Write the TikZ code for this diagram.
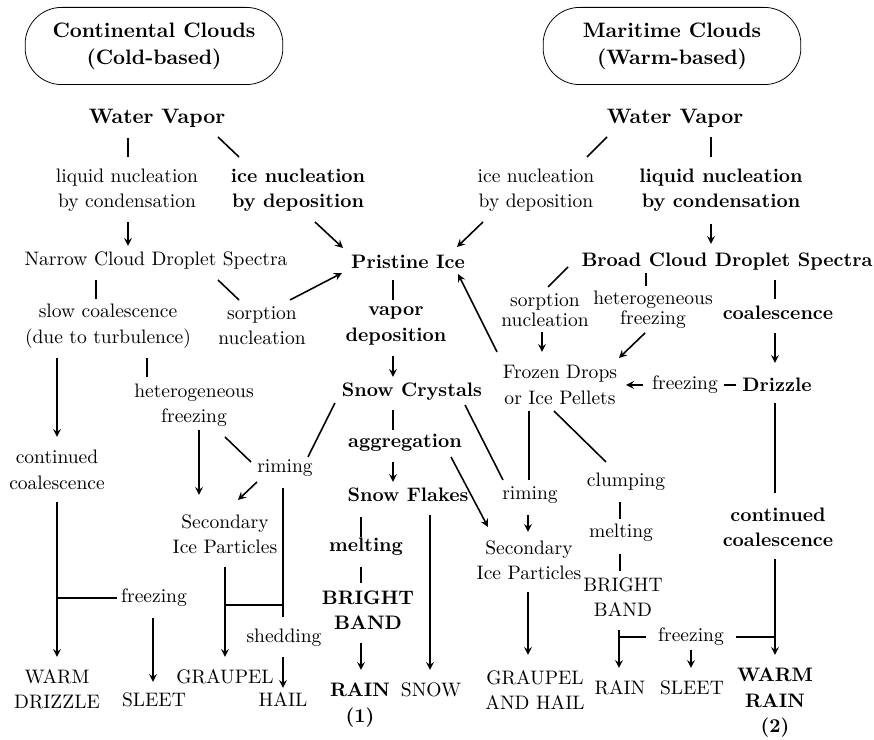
\documentclass[tikz,border=0pt]{standalone}
\usepackage{tikz}
\usetikzlibrary{calc}
\tikzset{
  lbl/.style={align=center, inner sep=2pt, font=\fontsize{10}{13}\selectfont},
  blbl/.style={lbl, font=\fontsize{10}{13}\selectfont\bfseries},
  biglbl/.style={lbl, font=\fontsize{10.7}{14}\selectfont\bfseries},
  tightlbl/.style={lbl, font=\fontsize{10}{10.2}\selectfont},
  cloudbox/.style={draw, thin, rounded corners=0.66cm, minimum width=4.64cm,
    minimum height=1.39cm, align=center, font=\fontsize{10.7}{14}\selectfont\bfseries},
  link/.style={thick},
  arr/.style={thick, -stealth},
}

\begin{document}
\begin{tikzpicture}[x=0.018cm, y=-0.018cm]
\useasboundingbox (0,0) rectangle (874,740);
% cloud types
\node[cloudbox] (contclouds) at (154,46) {Continental Clouds\\(Cold-based)};
\node[cloudbox] (maritclouds) at (672,46) {Maritime Clouds\\(Warm-based)};

% continental side
\node[biglbl] (wvL) at (157,118) {Water Vapor};
\node[lbl] (liqL) at (127,190) {liquid nucleation\\by condensation};
\node[blbl] (iceL) at (298,190) {ice nucleation\\by deposition};
\node[lbl] (narrow) at (156,261) {Narrow Cloud Droplet Spectra};
\node[blbl] (pristine) at (408,262) {Pristine Ice};
\node[lbl] (slowL) at (108,326) {slow coalescence\\(due to turbulence)};
\node[lbl] (sorpL) at (262,326) {sorption\\nucleation};
\node[blbl] (vapdep) at (396,326) {vapor\\deposition};
\node[lbl] (contL) at (57,470) {continued\\coalescence};
\node[lbl] (hetL) at (194,405) {heterogeneous\\freezing};
\node[blbl] (crystals) at (412,392) {Snow Crystals};
\node[blbl] (aggr) at (405,443) {aggregation};
\node[lbl] (rimeL) at (285,468) {riming};
\node[blbl] (flakes) at (408,495) {Snow Flakes};
\node[lbl] (secL) at (225,534) {Secondary\\Ice Particles};
\node[blbl] (meltL) at (366,547) {melting};
\node[blbl] (brightL) at (368,610) {BRIGHT\\BAND};
\node[lbl] (frzL) at (154,598) {freezing};
\node[lbl] (shed) at (284,638) {shedding};
\node[lbl] (warmdr) at (57,689) {WARM\\DRIZZLE};
\node[lbl] (sleetL) at (154,700) {SLEET};
\node[lbl] (graupel) at (225,677) {GRAUPEL};
\node[lbl] (hail) at (283,700) {HAIL};
\node[blbl] (rain1) at (360,705) {RAIN\\(1)};
\node[lbl] (snow) at (431,690) {SNOW};

% maritime side
\node[biglbl] (wvR) at (675,118) {Water Vapor};
\node[lbl] (iceR) at (536,190) {ice nucleation\\by deposition};
\node[blbl] (liqR) at (721,190) {liquid nucleation\\by condensation};
\node[blbl] (broad) at (727,262) {Broad Cloud Droplet Spectra};
\node[tightlbl] (sorpR) at (545,310) {sorption\\nucleation};
\node[tightlbl] (hetR) at (653,310) {heterogeneous\\freezing};
\node[blbl] (coal) at (778,313) {coalescence};
\node[lbl] (frozen) at (560,385) {Frozen Drops\\or Ice Pellets};
\node[lbl] (frzM) at (685,385) {freezing};
\node[blbl] (drizzle) at (777,385) {Drizzle};
\node[lbl] (rimeR) at (530,495) {riming};
\node[lbl] (clump) at (626,482) {clumping};
\node[lbl] (secR) at (529,560) {Secondary\\Ice Particles};
\node[lbl] (meltR) at (621,533) {melting};
\node[lbl] (brightR) at (623,597) {BRIGHT\\BAND};
\node[blbl] (contR) at (778,527) {continued\\coalescence};
\node[lbl] (frzR) at (691,637) {freezing};
\node[lbl] (grhail) at (535,690) {GRAUPEL\\AND HAIL};
\node[lbl] (rainR) at (620,688) {RAIN};
\node[lbl] (sleetR) at (692,688) {SLEET};
\node[blbl] (warmrain) at (775,703) {WARM\\RAIN\\(2)};

% left branch
\draw[link] ($(wvL)+(-29,20)$) -- ($(liqL)+(1,-33)$);
\draw[link] ($(wvL)+(61,19)$) -- ($(iceL)+(-59,-33)$);
\draw[arr] ($(liqL)+(1,32)$) -- ($(narrow)+(-28,-15)$);
\draw[arr] ($(iceL)+(17,32)$) -- ($(pristine)+(-65,-14)$);
\draw[link] ($(narrow)+(-60,19)$) -- ($(slowL)+(-12,-27)$);
\draw[link] ($(narrow)+(62,19)$) -- ($(sorpL)+(-23,-26)$);
\draw[arr] ($(sorpL)+(28,-26)$) -- ($(pristine)+(-66,11)$);
\draw[arr] ($(slowL)+(-51,32)$) -- ($(contL)+(0,-33)$);
\draw[link] ($(slowL)+(39,32)$) -- ($(hetL)+(-47,-28)$);
\draw[arr] ($(hetL)+(5,25)$) -- ($(secL)+(-26,-39)$);
\draw[link] ($(hetL)+(31,32)$) -- ($(rimeL)+(-34,-6)$);
\draw[link] ($(crystals)+(-77,11)$) -- ($(rimeL)+(23,-11)$);
\draw[arr] ($(rimeL)+(-28,14)$) -- ($(secL)+(13,-34)$);
\draw[link] ($(rimeL)+(-2,20)$) -- ($(shed)+(-1,-21)$);
\draw[arr] ($(shed)+(-1,19)$) -- ($(hail)+(0,-12)$);
\draw[arr] ($(secL)+(0,33)$) -- ($(graupel)+(0,-20)$);
\draw[link] ($(secL)+(0,71)$) -- ($(shed)+(-1,-33)$);
\draw[arr] ($(contL)+(0,32)$) -- ($(warmdr)+(0,-32)$);
\draw[link] (frzL.west) -- (frzL.west -| warmdr);
\draw[arr] ($(frzL)+(-1,20)$) -- ($(sleetL)+(-1,-18)$);

% middle
\draw[link] ($(pristine)+(-15,18)$) -- ($(vapdep)+(-3,-26)$);
\draw[arr] ($(vapdep)+(-3,30)$) -- ($(crystals)+(-19,-15)$);
\draw[link] ($(crystals)+(-19,18)$) -- ($(aggr)+(-12,-13)$);
\draw[arr] ($(aggr)+(-12,19)$) -- ($(flakes)+(-15,-13)$);
\draw[link] ($(flakes)+(-47,22)$) -- ($(meltL)+(-5,-10)$);
\draw[link] ($(meltL)+(-5,20)$) -- ($(brightL)+(-7,-27)$);
\draw[arr] ($(brightL)+(-7,33)$) -- ($(rain1)+(1,-35)$);
\draw[arr] ($(flakes)+(22,20)$) -- ($(snow)+(-1,-20)$);
\draw[arr] ($(aggr)+(46,14)$) -- ($(secR)+(-41,-33)$);
\draw[link] ($(crystals)+(53,13)$) -- ($(rimeR)+(-27,-15)$);
\draw[arr] ($(rimeR)+(-2,20)$) -- ($(secR)+(-1,-28)$);
\draw[arr] ($(secR)+(-1,32)$) -- ($(grhail)+(-7,-35)$);

% right branch
\draw[link] ($(wvR)+(-68,19)$) -- ($(iceR)+(51,-33)$);
\draw[link] ($(wvR)+(36,19)$) -- ($(liqR)+(-10,-33)$);
\draw[arr] ($(iceR)+(-53,32)$) -- ($(pristine)+(49,-15)$);
\draw[arr] ($(liqR)+(-10,34)$) -- ($(broad)+(-16,-18)$);
\draw[link] ($(broad)+(-159,5)$) -- ($(sorpR)+(3,-23)$);
\draw[link] ($(broad)+(-81,11)$) -- ($(hetR)+(-7,-24)$);
\draw[link] ($(broad)+(48,18)$) -- ($(coal)+(-3,-14)$);
\draw[arr] ($(sorpR)+(-3,22)$) -- ($(frozen)+(-18,-33)$);
\draw[arr] ($(hetR)+(-8,23)$) -- ($(frozen)+(59,-27)$);
\draw[arr] ($(coal)+(-3,20)$) -- ($(drizzle)+(-2,-22)$);
\draw[arr] ($(frozen)+(-63,-33)$) -- ($(pristine)+(50,12)$);
\draw[arr] ($(frzM)+(-42,0)$) -- ($(frozen)+(66,0)$);
\draw[link, shorten <=1pt, shorten >=1pt] (drizzle) -- (frzM);
\draw[link] ($(drizzle)+(-2,18)$) -- ($(contR)+(-3,-34)$);
\draw[arr] ($(contR)+(-3,32)$) -- ($(warmrain)+(0,-48)$);
\draw[link, shorten <=4pt] (frzR.east) -- (frzR.east -| warmrain);
\draw[link, shorten <=4pt] (frzR.west) -- (frzR.west -| rainR);
\draw[arr] ($(frzR)+(0,13)$) -- ($(sleetR)+(-1,-20)$);
\draw[arr] ($(brightR)+(-4,33)$) -- ($(rainR)+(-1,-20)$);
\draw[link] ($(frozen)+(-31,26)$) -- ($(rimeR)+(-1,-15)$);
\draw[link] ($(frozen)+(-6,26)$) -- ($(clump)+(-20,-20)$);
\draw[link] ($(clump)+(-6,20)$) -- ($(meltR)+(-1,-14)$);
\draw[link] ($(meltR)+(-1,21)$) -- ($(brightR)+(-3,-26)$);
\end{tikzpicture}
\end{document}
